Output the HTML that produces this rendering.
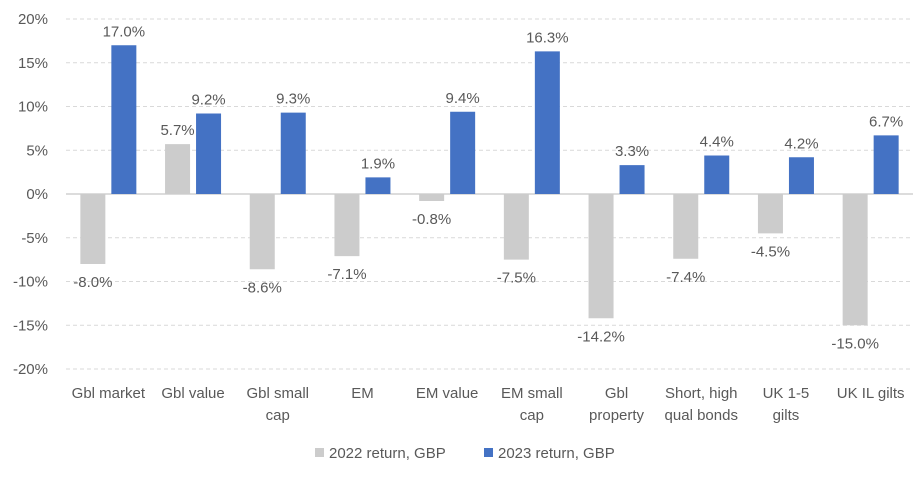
<!DOCTYPE html>
<html><head><meta charset="utf-8"><style>
html,body{margin:0;padding:0;background:#fff;}
svg text{font-family:"Liberation Sans",sans-serif;fill:#595959;}
</style></head><body>
<svg id="chart" width="920" height="473" viewBox="0 0 920 473" xmlns="http://www.w3.org/2000/svg">
<g id="grid"></g>
<g id="yaxis"></g>
<g id="bars"></g>
<g id="labels"></g>
<g id="xaxis"></g>
<g>
  <rect x="315" y="448" width="9" height="9" fill="#cccccc"/>
  <text x="329" y="458" font-size="15">2022 return, GBP</text>
  <rect x="484" y="448" width="9" height="9" fill="#4472c4"/>
  <text x="498" y="458" font-size="15">2023 return, GBP</text>
</g>
</svg>
<script>
const categories = [["Gbl market"],["Gbl value"],["Gbl small","cap"],["EM"],["EM value"],["EM small","cap"],["Gbl","property"],["Short, high","qual bonds"],["UK 1-5","gilts"],["UK IL gilts"]];
const returns2022 = [-8.0, 5.7, -8.6, -7.1, -0.8, -7.5, -14.2, -7.4, -4.5, -15.0];
const returns2023 = [17.0, 9.2, 9.3, 1.9, 9.4, 16.3, 3.3, 4.4, 4.2, 6.7];
const yTicks = [20, 15, 10, 5, 0, -5, -10, -15, -20];

const NS = "http://www.w3.org/2000/svg";
const x0 = 66, x1 = 913, yTop = 19, yBot = 369, yMax = 20, yMin = -20;
const band = (x1 - x0) / categories.length;
function y(v){ return yTop + (yMax - v) / (yMax - yMin) * (yBot - yTop); }
function xc(i){ return x0 + band * (i + 0.5); }
function mk(tag, attrs, parent){ const e = document.createElementNS(NS, tag); for (const k in attrs) e.setAttribute(k, attrs[k]); parent.appendChild(e); return e; }

const grid = document.getElementById('grid'), yaxis = document.getElementById('yaxis');
yTicks.forEach(t => {
  const l = mk('line', {x1: x0, x2: x1, y1: y(t), y2: y(t), stroke: t === 0 ? '#d0d0d0' : '#d9d9d9', 'stroke-width': t === 0 ? 1.5 : 1, 'stroke-dasharray': t === 0 ? '' : '4,3'}, grid);
  
  
  const tx = mk('text', {x: 48, y: y(t) + 5, 'text-anchor': 'end', 'font-size': 15}, yaxis);
  tx.textContent = t + '%';
  
  
});

const bars = document.getElementById('bars'), labels = document.getElementById('labels'), xaxis = document.getElementById('xaxis');
const bw = 25, off = 15.5;
function drawBar(i, v, dx, color, name){
  const top = Math.min(y(v), y(0)), h = Math.abs(y(v) - y(0));
  const r = mk('rect', {x: xc(i) + dx - bw/2, y: top, width: bw, height: h, fill: color}, bars);
  
  
  const ly = v >= 0 ? y(v) - 9 : y(v) + 23;
  const t = mk('text', {x: xc(i) + dx, y: ly, 'text-anchor': 'middle', 'font-size': 15}, labels);
  t.textContent = v.toFixed(1) + '%';
  
  
}
categories.forEach((c, i) => {
  drawBar(i, returns2022[i], -off, '#cccccc', 'bar-2022');
  drawBar(i, returns2023[i], off, '#4472c4', 'bar-2023');
  c.forEach((line, j) => {
    const t = mk('text', {x: xc(i), y: 398 + j * 22, 'text-anchor': 'middle', 'font-size': 15}, xaxis);
    t.textContent = line;
    
    
  });
});
</script>
</body></html>
